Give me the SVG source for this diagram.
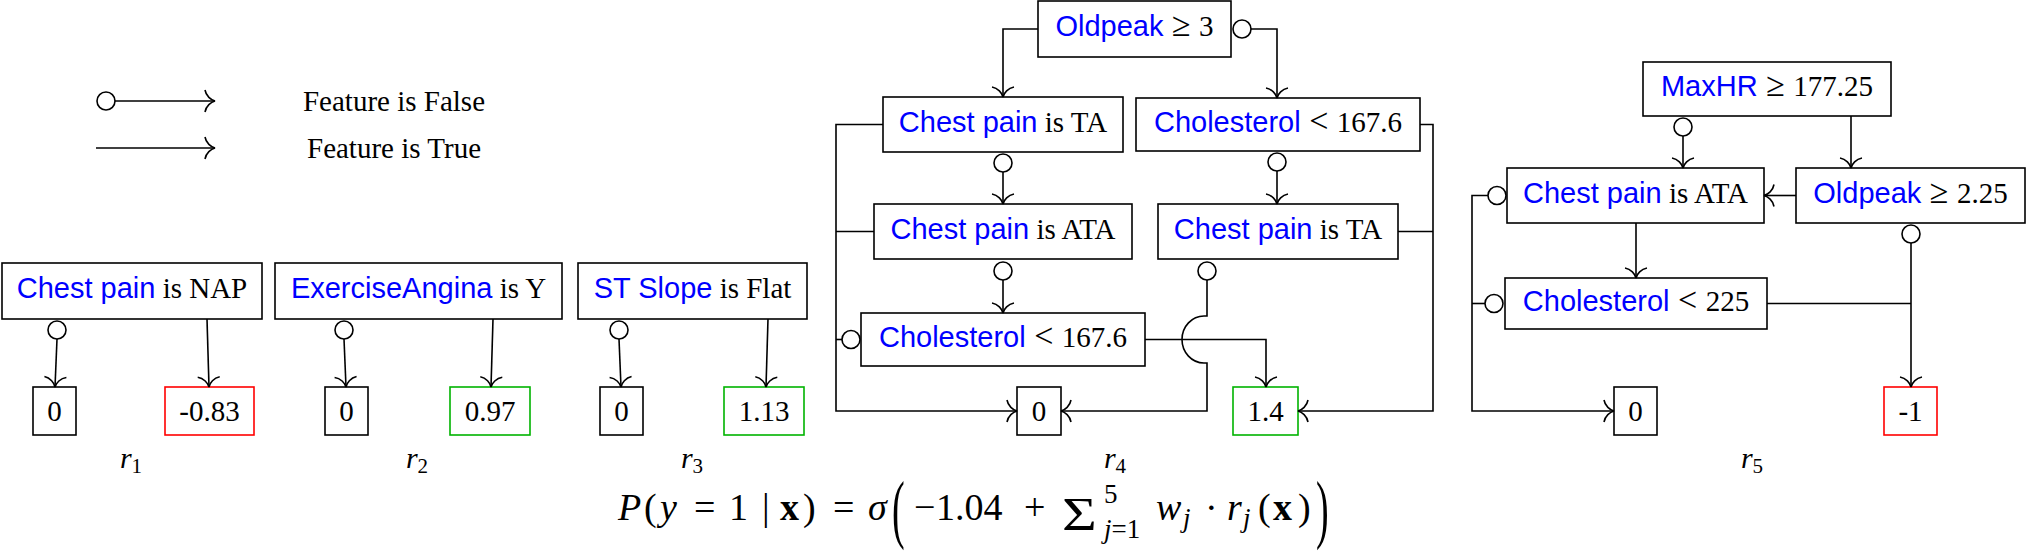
<svg xmlns="http://www.w3.org/2000/svg" width="2027" height="553" viewBox="0 0 2027 553">
<style>
.box{fill:#fff;stroke:#000;stroke-width:1.6}
.red{stroke:#ff0000}
.green{stroke:#00b300}
.t{font-family:"Liberation Serif","Times New Roman",serif;font-size:29px;fill:#000}
.f{font-family:"Liberation Sans",Arial,sans-serif;fill:#0000ff}
.rel{font-size:34px}
.conn{fill:none;stroke:#000;stroke-width:1.6}
.dot{fill:#fff;stroke:#000;stroke-width:1.6}
.m{font-family:"Liberation Serif","Times New Roman",serif;font-size:38px;fill:#000}
.i{font-style:italic}
.b{font-weight:bold}
.s{font-size:27px}
.sum{font-size:46px}
.lab{font-size:30px}
.sub{font-size:21px}
</style>
<defs>
<marker id="arr" viewBox="-12 -12 14 24" refX="0" refY="0" markerWidth="14" markerHeight="24" markerUnits="userSpaceOnUse" orient="auto" overflow="visible">
<path d="M-10,-11 C-9,-5 -4,-1 0,0 C-4,1 -9,5 -10,11" fill="none" stroke="#000" stroke-width="1.6"/>
</marker>
</defs>

<g id="legend">
<circle class="dot" cx="106" cy="101" r="9"/>
<path class="conn" d="M115,101 H215" marker-end="url(#arr)"/>
<path class="conn" d="M96,148 H215" marker-end="url(#arr)"/>
<text class="t" x="394" y="111" text-anchor="middle">Feature is False</text>
<text class="t" x="394" y="158" text-anchor="middle">Feature is True</text>
</g>

<!-- r1 -->
<g id="r1_root"><rect class="box" x="2" y="263" width="260" height="56"/><text class="t" x="132" y="298" text-anchor="middle"><tspan class="f">Chest pain</tspan> is NAP</text></g>
<g id="r1_leaf0"><rect class="box" x="33" y="387" width="43" height="48"/><text class="t" x="54.5" y="421" text-anchor="middle">0</text></g>
<g id="r1_leaf1"><rect class="box red" x="165" y="387" width="89" height="48"/><text class="t" x="209.5" y="421" text-anchor="middle">-0.83</text></g>

<!-- r2 -->
<g id="r2_root"><rect class="box" x="275" y="263" width="287" height="56"/><text class="t" x="418.5" y="298" text-anchor="middle"><tspan class="f">ExerciseAngina</tspan> is Y</text></g>
<g id="r2_leaf0"><rect class="box" x="325" y="387" width="43" height="48"/><text class="t" x="346.5" y="421" text-anchor="middle">0</text></g>
<g id="r2_leaf1"><rect class="box green" x="450" y="387" width="80" height="48"/><text class="t" x="490" y="421" text-anchor="middle">0.97</text></g>

<!-- r3 -->
<g id="r3_root"><rect class="box" x="578" y="263" width="229" height="56"/><text class="t" x="692.5" y="298" text-anchor="middle"><tspan class="f">ST Slope</tspan> is Flat</text></g>
<g id="r3_leaf0"><rect class="box" x="600" y="387" width="43" height="48"/><text class="t" x="621.5" y="421" text-anchor="middle">0</text></g>
<g id="r3_leaf1"><rect class="box green" x="724" y="387" width="80" height="48"/><text class="t" x="764" y="421" text-anchor="middle">1.13</text></g>

<!-- r4 -->
<g id="r4_A"><rect class="box" x="1038" y="1" width="193" height="56"/><text class="t" x="1134.5" y="36" text-anchor="middle"><tspan class="f">Oldpeak</tspan><tspan class="rel"> ≥ </tspan>3</text></g>
<g id="r4_B"><rect class="box" x="883" y="97" width="240" height="55"/><text class="t" x="1003" y="131.5" text-anchor="middle"><tspan class="f">Chest pain</tspan> is TA</text></g>
<g id="r4_C"><rect class="box" x="1136" y="98" width="284" height="53"/><text class="t" x="1278" y="131.5" text-anchor="middle"><tspan class="f">Cholesterol</tspan><tspan class="rel"> &lt; </tspan>167.6</text></g>
<g id="r4_D"><rect class="box" x="874" y="204" width="258" height="55"/><text class="t" x="1003" y="238.5" text-anchor="middle"><tspan class="f">Chest pain</tspan> is ATA</text></g>
<g id="r4_E"><rect class="box" x="1158" y="204" width="240" height="55"/><text class="t" x="1278" y="238.5" text-anchor="middle"><tspan class="f">Chest pain</tspan> is TA</text></g>
<g id="r4_F"><rect class="box" x="861" y="313" width="284" height="53"/><text class="t" x="1003" y="346.5" text-anchor="middle"><tspan class="f">Cholesterol</tspan><tspan class="rel"> &lt; </tspan>167.6</text></g>
<g id="r4_leaf0"><rect class="box" x="1017" y="387" width="44" height="48"/><text class="t" x="1039" y="421" text-anchor="middle">0</text></g>
<g id="r4_leaf1"><rect class="box green" x="1233" y="387" width="65" height="48"/><text class="t" x="1265.5" y="421" text-anchor="middle">1.4</text></g>

<!-- r5 -->
<g id="r5_G"><rect class="box" x="1643" y="62" width="248" height="54"/><text class="t" x="1767" y="96" text-anchor="middle"><tspan class="f">MaxHR</tspan><tspan class="rel"> ≥ </tspan>177.25</text></g>
<g id="r5_H"><rect class="box" x="1507" y="168" width="257" height="55"/><text class="t" x="1635.5" y="202.5" text-anchor="middle"><tspan class="f">Chest pain</tspan> is ATA</text></g>
<g id="r5_I"><rect class="box" x="1796" y="168" width="229" height="55"/><text class="t" x="1910.5" y="202.5" text-anchor="middle"><tspan class="f">Oldpeak</tspan><tspan class="rel"> ≥ </tspan>2.25</text></g>
<g id="r5_J"><rect class="box" x="1505" y="278" width="262" height="51"/><text class="t" x="1636" y="310.5" text-anchor="middle"><tspan class="f">Cholesterol</tspan><tspan class="rel"> &lt; </tspan>225</text></g>
<g id="r5_leaf0"><rect class="box" x="1614" y="387" width="43" height="48"/><text class="t" x="1635.5" y="421" text-anchor="middle">0</text></g>
<g id="r5_leaf1"><rect class="box red" x="1884" y="387" width="53" height="48"/><text class="t" x="1910.5" y="421" text-anchor="middle">-1</text></g>

<g id="connectors">
<!-- r1 -->
<path class="conn" d="M57,339 L55,387" marker-end="url(#arr)"/>
<circle class="dot" cx="57" cy="330" r="9"/>
<path class="conn" d="M207,319 L209,387" marker-end="url(#arr)"/>
<!-- r2 -->
<path class="conn" d="M344,339 L346,387" marker-end="url(#arr)"/>
<circle class="dot" cx="344" cy="330" r="9"/>
<path class="conn" d="M493,319 L491,387" marker-end="url(#arr)"/>
<!-- r3 -->
<path class="conn" d="M619,339 L621,387" marker-end="url(#arr)"/>
<circle class="dot" cx="619" cy="330" r="9"/>
<path class="conn" d="M768,319 L766,387" marker-end="url(#arr)"/>
<!-- r4 -->
<path class="conn" d="M1038,29 H1003 V97" marker-end="url(#arr)"/>
<path class="conn" d="M1251,29 H1277 V98" marker-end="url(#arr)"/>
<circle class="dot" cx="1242" cy="29" r="9"/>
<path class="conn" d="M1003,172 V204" marker-end="url(#arr)"/>
<circle class="dot" cx="1003" cy="163" r="9"/>
<path class="conn" d="M1277,171 V204" marker-end="url(#arr)"/>
<circle class="dot" cx="1277" cy="162" r="9"/>
<path class="conn" d="M1003,280 V313" marker-end="url(#arr)"/>
<circle class="dot" cx="1003" cy="271" r="9"/>
<path class="conn" d="M883,124.5 H836 V411 H1017" marker-end="url(#arr)"/>
<path class="conn" d="M874,231.5 H836"/>
<path class="conn" d="M836,339.5 H842"/>
<circle class="dot" cx="851" cy="339.5" r="9"/>
<path class="conn" d="M1145,339.5 H1266 V387" marker-end="url(#arr)"/>
<path class="conn" d="M1207,280 V316 H1204 A22,23.5 0 0 0 1204,363 H1207 V411 H1061" marker-end="url(#arr)"/>
<circle class="dot" cx="1207" cy="271" r="9"/>
<path class="conn" d="M1420,124.5 H1433 V411 H1298" marker-end="url(#arr)"/>
<path class="conn" d="M1398,231.5 H1433"/>
<!-- r5 -->
<path class="conn" d="M1683,136 V168" marker-end="url(#arr)"/>
<circle class="dot" cx="1683" cy="127" r="9"/>
<path class="conn" d="M1851,116 V168" marker-end="url(#arr)"/>
<path class="conn" d="M1796,195.5 H1764" marker-end="url(#arr)"/>
<path class="conn" d="M1488,195.5 H1472 V411 H1614" marker-end="url(#arr)"/>
<circle class="dot" cx="1497" cy="195.5" r="9"/>
<path class="conn" d="M1472,303.5 H1485"/>
<circle class="dot" cx="1494" cy="303.5" r="9"/>
<path class="conn" d="M1636,223 V278" marker-end="url(#arr)"/>
<path class="conn" d="M1767,303.5 H1911"/>
<path class="conn" d="M1911,243 V387" marker-end="url(#arr)"/>
<circle class="dot" cx="1911" cy="234" r="9"/>
</g>

<g id="labels">
<text class="t lab" x="131" y="468" text-anchor="middle"><tspan class="i">r</tspan><tspan class="sub" dy="5">1</tspan></text>
<text class="t lab" x="417" y="468" text-anchor="middle"><tspan class="i">r</tspan><tspan class="sub" dy="5">2</tspan></text>
<text class="t lab" x="692" y="468" text-anchor="middle"><tspan class="i">r</tspan><tspan class="sub" dy="5">3</tspan></text>
<text class="t lab" x="1115" y="468" text-anchor="middle"><tspan class="i">r</tspan><tspan class="sub" dy="5">4</tspan></text>
<text class="t lab" x="1752" y="468" text-anchor="middle"><tspan class="i">r</tspan><tspan class="sub" dy="5">5</tspan></text>
</g>

<g id="formula">
<text class="m" y="520"><tspan class="i" x="618">P</tspan><tspan x="644">(</tspan><tspan class="i" x="660">y</tspan><tspan x="694">=</tspan><tspan x="729">1</tspan><tspan x="762">|</tspan><tspan class="b" x="780">x</tspan><tspan x="803">)</tspan><tspan x="833">=</tspan><tspan class="i" x="868">σ</tspan><tspan x="914">−</tspan><tspan x="936">1.04</tspan><tspan x="1024">+</tspan></text>
<text class="m" transform="translate(892,534) scale(1,2)">(</text>
<text class="m sum" transform="translate(1062,530) scale(1.3,1)">Σ</text>
<text class="m s" x="1104" y="503">5</text>
<text class="m s" x="1104" y="538"><tspan class="i">j</tspan>=1</text>
<text class="m" y="520"><tspan class="i" x="1156">w</tspan><tspan class="i s" x="1183" dy="7">j</tspan><tspan x="1205" dy="-7">·</tspan><tspan class="i" x="1227">r</tspan><tspan class="i s" x="1243" dy="7">j</tspan><tspan x="1258" dy="-7">(</tspan><tspan class="b" x="1273">x</tspan><tspan x="1298">)</tspan></text>
<text class="m" transform="translate(1316,534) scale(1,2)">)</text>
</g>
</svg>
